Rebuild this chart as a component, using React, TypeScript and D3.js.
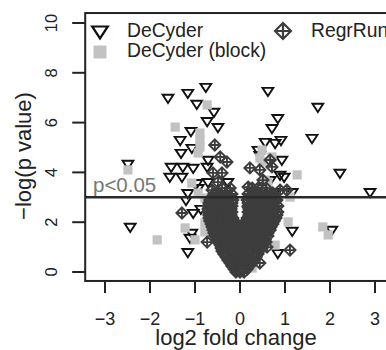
import React from "react";
import * as d3 from "d3";

const xTicks = [-3, -2, -1, 0, 1, 2, 3];
const yTicks = [0, 2, 4, 6, 8, 10];
const threshold = 3.0;
const legendLabels = ["DeCyder", "DeCyder (block)", "RegrRun"];

// DeCyder (open down-triangles): [log2 fold change, -log(p)]
const decyder: [number, number][] = [
  [-1.6, 6.99], [-1.16, 7.19], [-0.76, 7.43], [-0.96, 6.75], [-0.58, 6.43], [-0.73, 6.06],
  [-0.49, 5.82], [0.62, 7.27], [1.73, 6.63], [0.84, 6.18], [0.71, 5.78], [1.6, 5.38],
  [0.56, 5.22], [0.78, 5.18], [0.91, 5.3], [2.22, 3.98], [2.89, 3.21], [-2.49, 4.34],
  [-2.44, 1.81], [-1.33, 5.3], [-1.31, 4.78], [-1.07, 4.98], [-1.53, 4.22], [-1.27, 4.22],
  [-1.04, 4.18], [-1.56, 3.82], [-1.29, 3.82], [-0.73, 4.22], [-0.71, 4.5], [-0.96, 3.57],
  [-0.71, 3.61], [-1.16, 3.17], [-0.93, 3.37], [-1.04, 2.37], [-0.87, 2.53], [-1.11, 1.37],
  [-1.16, 0.8], [-1.07, 1.57], [0.44, 4.7], [0.93, 4.5], [0.89, 3.9], [0.98, 3.82],
  [0.78, 3.21], [1.16, 1.65], [0.84, 0.76], [2.04, 1.69], [1.16, 3.21], [0.67, 3.69],
  [-1.2, 2.89], [-1.09, 5.66], [-0.27, 3.61], [0.4, 4.9],
];

// DeCyder (block) (filled grey squares)
const decyderBlock: [number, number][] = [
  [-0.73, 6.71], [-1.44, 5.82], [-0.89, 5.58], [-0.89, 5.3], [-0.89, 5.02], [-0.93, 4.78],
  [0.49, 4.9], [0.71, 4.62], [1.27, 3.9], [0.62, 3.61], [1.11, 3.01], [1.07, 2.01],
  [-1.22, 1.77], [-1.84, 1.29], [-1.0, 1.29], [-0.78, 1.97], [1.84, 1.81], [1.96, 1.49],
  [0.78, 1.08], [-1.07, 3.57], [-0.93, 3.17], [-2.49, 4.1], [-0.78, 1.61], [-0.73, 2.37],
  [-0.67, 2.89], [0.49, 4.42], [-0.78, 2.97], [0.44, 4.58], [0.56, 3.69], [0.44, 1.16],
  [0.27, 0.16],
];

// RegrRun (diamond with plus)
const regrRun: [number, number][] = [
  [-0.56, 5.1], [-0.44, 4.62], [-0.29, 4.42], [-0.6, 3.98], [-0.4, 3.98], [-0.62, 3.29],
  [-1.29, 2.37], [-0.73, 1.2], [0.22, 4.18], [0.44, 4.1], [0.71, 4.22], [0.18, 3.41],
  [0.49, 3.37], [0.73, 3.17], [1.04, 3.29], [0.73, 2.37], [0.71, 1.93], [0.6, 1.0],
  [1.11, 0.88], [0.44, 0.36], [0.67, 4.5], [0.38, 2.89], [0.89, 3.29], [-0.49, 3.61],
  [0.67, 2.61], [0.18, 2.61], [0.51, 3.69],
  [-0.09, 0.0], [0.0, 0.0], [0.09, 0.0],
  [-0.13, 0.12], [-0.02, 0.12], [0.07, 0.12], [0.16, 0.12],
  [-0.18, 0.24], [-0.04, 0.24], [0.09, 0.24], [0.2, 0.24],
  [-0.22, 0.36], [-0.09, 0.36], [0.04, 0.36], [0.16, 0.36], [0.27, 0.36],
  [-0.27, 0.48], [-0.13, 0.48], [0.0, 0.48], [0.13, 0.48], [0.29, 0.48],
  [-0.31, 0.6], [-0.18, 0.6], [-0.04, 0.6], [0.09, 0.6], [0.22, 0.6], [0.36, 0.6],
  [-0.36, 0.72], [-0.22, 0.72], [-0.09, 0.72], [0.04, 0.72], [0.18, 0.72], [0.31, 0.72], [0.4, 0.72],
  [-0.4, 0.84], [-0.27, 0.84], [-0.13, 0.84], [0.0, 0.84], [0.13, 0.84], [0.27, 0.84], [0.42, 0.84],
  [-0.42, 0.96], [-0.29, 0.96], [-0.16, 0.96], [-0.02, 0.96], [0.11, 0.96], [0.24, 0.96], [0.38, 0.96], [0.49, 0.96],
  [-0.44, 1.08], [-0.31, 1.08], [-0.18, 1.08], [-0.04, 1.08], [0.09, 1.08], [0.22, 1.08], [0.36, 1.08], [0.49, 1.08],
  [-0.49, 1.2], [-0.36, 1.2], [-0.22, 1.2], [-0.09, 1.2], [0.04, 1.2], [0.18, 1.2], [0.31, 1.2], [0.44, 1.2], [0.58, 1.2],
  [-0.51, 1.32], [-0.38, 1.32], [-0.24, 1.32], [-0.11, 1.32], [0.02, 1.32], [0.16, 1.32], [0.29, 1.32], [0.42, 1.32], [0.56, 1.32],
  [-0.56, 1.45], [-0.42, 1.45], [-0.29, 1.45], [-0.16, 1.45], [-0.02, 1.45], [0.11, 1.45], [0.24, 1.45], [0.38, 1.45], [0.51, 1.45], [0.62, 1.45],
  [-0.58, 1.57], [-0.44, 1.57], [-0.31, 1.57], [-0.18, 1.57], [-0.04, 1.57], [0.09, 1.57], [0.22, 1.57], [0.36, 1.57], [0.49, 1.57], [0.62, 1.57],
  [-0.6, 1.69], [-0.47, 1.69], [-0.33, 1.69], [-0.2, 1.69], [-0.07, 1.69], [0.07, 1.69], [0.2, 1.69], [0.33, 1.69], [0.47, 1.69], [0.58, 1.69], [0.67, 1.69],
  [-0.62, 1.81], [-0.49, 1.81], [-0.36, 1.81], [-0.22, 1.81], [-0.09, 1.81], [0.07, 1.81], [0.18, 1.81], [0.31, 1.81], [0.44, 1.81], [0.58, 1.81], [0.69, 1.81],
  [-0.64, 1.93], [-0.51, 1.93], [-0.38, 1.93], [-0.24, 1.93], [-0.11, 1.93], [0.11, 1.93], [0.24, 1.93], [0.38, 1.93], [0.51, 1.93], [0.62, 1.93], [0.73, 1.93],
  [-0.67, 2.05], [-0.53, 2.05], [-0.4, 2.05], [-0.27, 2.05], [-0.13, 2.05], [0.13, 2.05], [0.22, 2.05], [0.36, 2.05], [0.49, 2.05], [0.62, 2.05], [0.76, 2.05],
  [-0.69, 2.17], [-0.56, 2.17], [-0.42, 2.17], [-0.29, 2.17], [-0.16, 2.17], [0.16, 2.17], [0.29, 2.17], [0.42, 2.17], [0.56, 2.17], [0.69, 2.17], [0.8, 2.17],
  [-0.69, 2.29], [-0.56, 2.29], [-0.42, 2.29], [-0.29, 2.29], [-0.2, 2.29], [0.2, 2.29], [0.27, 2.29], [0.4, 2.29], [0.53, 2.29], [0.67, 2.29], [0.82, 2.29],
  [-0.71, 2.41], [-0.58, 2.41], [-0.44, 2.41], [-0.31, 2.41], [-0.18, 2.41], [0.18, 2.41], [0.31, 2.41], [0.44, 2.41], [0.58, 2.41], [0.71, 2.41], [0.84, 2.41],
  [-0.71, 2.53], [-0.6, 2.53], [-0.47, 2.53], [-0.33, 2.53], [-0.2, 2.53], [0.2, 2.53], [0.36, 2.53], [0.49, 2.53], [0.64, 2.53], [0.78, 2.53],
  [-0.71, 2.65], [-0.58, 2.65], [-0.44, 2.65], [-0.31, 2.65], [-0.18, 2.65], [0.18, 2.65], [0.31, 2.65], [0.44, 2.65], [0.58, 2.65], [0.71, 2.65], [0.84, 2.65],
  [-0.69, 2.77], [-0.56, 2.77], [-0.42, 2.77], [-0.29, 2.77], [-0.18, 2.77], [0.18, 2.77], [0.36, 2.77], [0.49, 2.77], [0.62, 2.77], [0.76, 2.77],
  [-0.67, 2.89], [-0.53, 2.89], [-0.4, 2.89], [-0.27, 2.89], [-0.16, 2.89], [0.16, 2.89], [0.29, 2.89], [0.42, 2.89], [0.56, 2.89], [0.69, 2.89], [0.82, 2.89],
  [-0.62, 3.01], [-0.49, 3.01], [-0.36, 3.01], [-0.22, 3.01], [0.22, 3.01], [0.36, 3.01], [0.49, 3.01], [0.64, 3.01], [0.78, 3.01],
  [-0.58, 3.13], [-0.44, 3.13], [-0.31, 3.13], [-0.18, 3.13], [0.18, 3.13], [0.31, 3.13], [0.44, 3.13], [0.58, 3.13], [0.71, 3.13],
  [-0.4, 3.37], [-0.22, 3.37], [0.27, 3.37], [0.4, 3.37], [0.58, 3.37],
];

const FONT = "'Liberation Sans', Arial, Helvetica, sans-serif";

function triPath(s: number) {
  return `M${-s},${-0.58 * s}L${s},${-0.58 * s}L0,${0.95 * s}Z`;
}
function diamondPlusPath(r: number) {
  return `M0,${-r}L${r},0L0,${r}L${-r},0Z M${-r},0L${r},0 M0,${-r}L0,${r}`;
}

export default function App() {
  const W = 386, H = 350;
  const x = d3.scaleLinear().domain([-3, 3]).range([105, 375]);
  const y = d3.scaleLinear().domain([0, 10]).range([272, 23]);
  const boxX0 = x(-3.44), boxX1 = x(3.9);
  const boxY0 = y(10.4), boxY1 = y(-0.36);
  const fmt = d3.format("d");
  const dark = "#3d3d3d";
  const grey = "#c2c2c2";

  return (
    <svg width={W} height={H} style={{ position: "absolute", left: 0, top: 0, background: "#fff" }}
      fontFamily={FONT}>
      <rect x={0} y={0} width={W} height={H} fill="#fff" />
      <g>
        {decyder.map(([a, b], i) => (
          <path key={"t" + i} d={triPath(5.4)} transform={`translate(${x(a)},${y(b)})`}
            fill="none" stroke="#111" strokeWidth={1.9} strokeLinejoin="miter" />
        ))}
        {decyderBlock.map(([a, b], i) => (
          <rect key={"s" + i} x={x(a) - 4.6} y={y(b) - 4.6} width={9.2} height={9.2} fill={grey} />
        ))}
        {regrRun.map(([a, b], i) => (
          <path key={"d" + i} d={diamondPlusPath(5.6)} transform={`translate(${x(a)},${y(b)})`}
            fill="none" stroke={dark} strokeWidth={1.9} />
        ))}
      </g>
      <line x1={boxX0} x2={boxX1} y1={y(threshold)} y2={y(threshold)} stroke="#2a2a2a" strokeWidth={2.4} />
      <text x={93} y={y(threshold) - 5} fontSize={20.5} fill="#777">p&lt;0.05</text>
      <rect x={boxX0} y={boxY0} width={boxX1 - boxX0} height={boxY1 - boxY0} fill="none" stroke="#222" strokeWidth={2} />
      {xTicks.map((t) => (
        <g key={"xt" + t}>
          <line x1={x(t)} x2={x(t)} y1={boxY1} y2={boxY1 + 12} stroke="#222" strokeWidth={2} />
          <text x={x(t)} y={325} textAnchor="middle" fontSize={18} fill="#222">{fmt(t)}</text>
        </g>
      ))}
      <text x={236} y={345} textAnchor="middle" fontSize={22} fill="#222">log2 fold change</text>
      {yTicks.map((t) => (
        <g key={"yt" + t}>
          <line x1={boxX0 - 13} x2={boxX0} y1={y(t)} y2={y(t)} stroke="#222" strokeWidth={2} />
          <text transform={`translate(57,${y(t)}) rotate(-90)`} textAnchor="middle" fontSize={16.5} fill="#222">{fmt(t)}</text>
        </g>
      ))}
      <text transform={`translate(31,156) rotate(-90)`} textAnchor="middle" fontSize={22} fill="#222">−log(p value)</text>
      <path d={triPath(7.8)} transform="translate(100,31)" fill="none" stroke="#111" strokeWidth={2.2} />
      <text x={127} y={37} fontSize={19.3} fill="#222">{legendLabels[0]}</text>
      <rect x={93.5} y={45.5} width={13} height={13} fill={grey} />
      <text x={127} y={57} fontSize={19.3} fill="#222">{legendLabels[1]}</text>
      <path d={diamondPlusPath(8)} transform="translate(283,31)" fill="none" stroke={dark} strokeWidth={2.2} />
      <text x={311} y={37} fontSize={19.3} fill="#222">{legendLabels[2]}</text>
    </svg>
  );
}
